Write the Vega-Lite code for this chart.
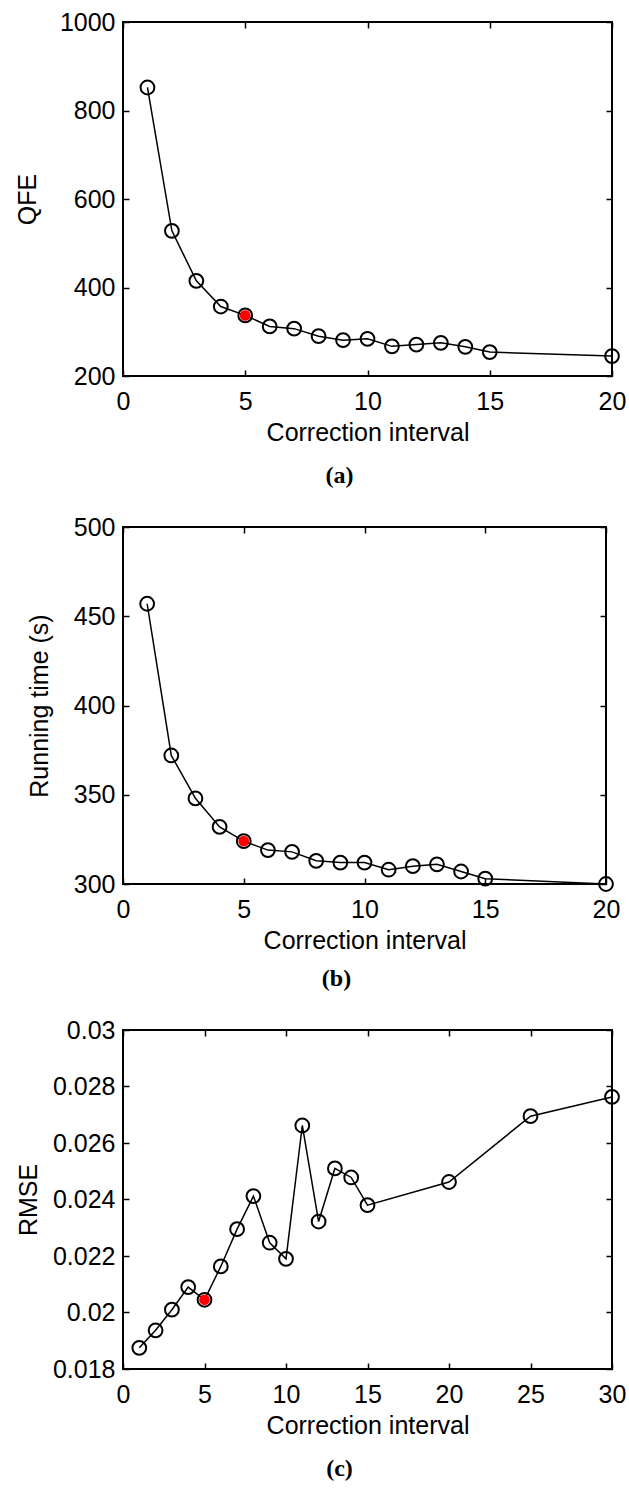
{
  "$schema": "https://vega.github.io/schema/vega-lite/v6.json",
  "background": "white",
  "padding": {"left": 14, "top": 9, "right": 5, "bottom": 5},
  "spacing": 25,
  "config": {
    "view": {"stroke": "black", "strokeWidth": 2},
    "font": "Liberation Sans",
    "axis": {
      "labelFont": "Liberation Sans", "labelFontSize": 25, "labelColor": "black",
      "titleFont": "Liberation Sans", "titleFontSize": 25, "titleFontWeight": "normal", "titleColor": "black",
      "domain": false, "grid": false, "tickColor": "black", "tickWidth": 1.5, "tickSize": -6,
      "labelFlush": false, "labelOverlap": false
    },
    "axisX": {"labelPadding": 19, "titlePadding": 6},
    "axisY": {"labelPadding": 14},
    "title": {"font": "Liberation Serif", "fontSize": 24, "fontWeight": "bold", "color": "black", "orient": "bottom", "offset": 19, "dx": -28}
  },
  "datasets": {
    "ab": [
      {"interval": 1, "qfe": 852, "time": 457},
      {"interval": 2, "qfe": 528, "time": 372},
      {"interval": 3, "qfe": 415, "time": 348},
      {"interval": 4, "qfe": 357, "time": 332},
      {"interval": 5, "qfe": 337, "time": 324},
      {"interval": 6, "qfe": 312, "time": 319},
      {"interval": 7, "qfe": 307, "time": 318},
      {"interval": 8, "qfe": 290, "time": 313},
      {"interval": 9, "qfe": 281, "time": 312},
      {"interval": 10, "qfe": 284, "time": 312},
      {"interval": 11, "qfe": 267, "time": 308},
      {"interval": 12, "qfe": 271, "time": 310},
      {"interval": 13, "qfe": 275, "time": 311},
      {"interval": 14, "qfe": 266, "time": 307},
      {"interval": 15, "qfe": 254, "time": 303},
      {"interval": 20, "qfe": 245, "time": 300}
    ],
    "c": [
      {"interval": 1, "rmse": 0.01875},
      {"interval": 2, "rmse": 0.01937},
      {"interval": 3, "rmse": 0.0201},
      {"interval": 4, "rmse": 0.0209},
      {"interval": 5, "rmse": 0.02045},
      {"interval": 6, "rmse": 0.02163},
      {"interval": 7, "rmse": 0.02295},
      {"interval": 8, "rmse": 0.02412},
      {"interval": 9, "rmse": 0.02247},
      {"interval": 10, "rmse": 0.0219},
      {"interval": 11, "rmse": 0.02662},
      {"interval": 12, "rmse": 0.02322},
      {"interval": 13, "rmse": 0.0251},
      {"interval": 14, "rmse": 0.02478},
      {"interval": 15, "rmse": 0.0238},
      {"interval": 20, "rmse": 0.02462},
      {"interval": 25, "rmse": 0.02695},
      {"interval": 30, "rmse": 0.02763}
    ]
  },
  "vconcat": [
    {
      "width": 489, "height": 354,
      "title": {"text": "(a)"},
      "data": {"name": "ab"},
      "resolve": {"axis": {"x": "independent", "y": "independent"}},
      "layer": [
        {
          "mark": {"type": "line", "color": "black", "strokeWidth": 1.5},
          "encoding": {
            "x": {"field": "interval", "type": "quantitative", "scale": {"domain": [0, 20], "nice": false},
                  "axis": {"title": "Correction interval", "values": [0, 5, 10, 15, 20]}},
            "y": {"field": "qfe", "type": "quantitative", "scale": {"domain": [200, 1000], "nice": false, "zero": false},
                  "axis": {"title": "QFE", "format": "d", "values": [200, 400, 600, 800, 1000], "titlePadding": 19}}
          }
        },
        {
          "mark": {"type": "point", "shape": "circle", "filled": false, "color": "black", "size": 190, "strokeWidth": 2, "opacity": 1},
          "encoding": {
            "x": {"field": "interval", "type": "quantitative", "scale": {"domain": [0, 20], "nice": false},
                  "axis": {"orient": "top", "labels": false, "title": null, "values": [0, 5, 10, 15, 20]}},
            "y": {"field": "qfe", "type": "quantitative", "scale": {"domain": [200, 1000], "nice": false, "zero": false},
                  "axis": {"orient": "right", "labels": false, "title": null, "values": [200, 400, 600, 800, 1000]}}
          }
        },
        {
          "transform": [{"filter": "datum.interval == 5"}],
          "mark": {"type": "point", "shape": "circle", "filled": true, "color": "#ff0000", "size": 115, "opacity": 1},
          "encoding": {
            "x": {"field": "interval", "type": "quantitative", "axis": null},
            "y": {"field": "qfe", "type": "quantitative", "axis": null}
          }
        }
      ]
    },
    {
      "width": 483, "height": 357,
      "title": {"text": "(b)", "offset": 14},
      "data": {"name": "ab"},
      "resolve": {"axis": {"x": "independent", "y": "independent"}},
      "layer": [
        {
          "mark": {"type": "line", "color": "black", "strokeWidth": 1.5},
          "encoding": {
            "x": {"field": "interval", "type": "quantitative", "scale": {"domain": [0, 20], "nice": false},
                  "axis": {"title": "Correction interval", "values": [0, 5, 10, 15, 20]}},
            "y": {"field": "time", "type": "quantitative", "scale": {"domain": [300, 500], "nice": false, "zero": false},
                  "axis": {"title": "Running time (s)", "format": "d", "values": [300, 350, 400, 450, 500], "titlePadding": 21}}
          }
        },
        {
          "mark": {"type": "point", "shape": "circle", "filled": false, "color": "black", "size": 190, "strokeWidth": 2, "opacity": 1},
          "encoding": {
            "x": {"field": "interval", "type": "quantitative", "scale": {"domain": [0, 20], "nice": false},
                  "axis": {"orient": "top", "labels": false, "title": null, "values": [0, 5, 10, 15, 20]}},
            "y": {"field": "time", "type": "quantitative", "scale": {"domain": [300, 500], "nice": false, "zero": false},
                  "axis": {"orient": "right", "labels": false, "title": null, "values": [300, 350, 400, 450, 500]}}
          }
        },
        {
          "transform": [{"filter": "datum.interval == 5"}],
          "mark": {"type": "point", "shape": "circle", "filled": true, "color": "#ff0000", "size": 115, "opacity": 1},
          "encoding": {
            "x": {"field": "interval", "type": "quantitative", "axis": null},
            "y": {"field": "time", "type": "quantitative", "axis": null}
          }
        }
      ]
    },
    {
      "width": 489, "height": 339,
      "title": {"text": "(c)"},
      "data": {"name": "c"},
      "resolve": {"axis": {"x": "independent", "y": "independent"}},
      "layer": [
        {
          "mark": {"type": "line", "color": "black", "strokeWidth": 1.5},
          "encoding": {
            "x": {"field": "interval", "type": "quantitative", "scale": {"domain": [0, 30], "nice": false},
                  "axis": {"title": "Correction interval", "values": [0, 5, 10, 15, 20, 25, 30]}},
            "y": {"field": "rmse", "type": "quantitative", "scale": {"domain": [0.018, 0.03], "nice": false, "zero": false},
                  "axis": {"title": "RMSE", "format": "~g", "values": [0.018, 0.02, 0.022, 0.024, 0.026, 0.028, 0.03], "titlePadding": 11}}
          }
        },
        {
          "mark": {"type": "point", "shape": "circle", "filled": false, "color": "black", "size": 190, "strokeWidth": 2, "opacity": 1},
          "encoding": {
            "x": {"field": "interval", "type": "quantitative", "scale": {"domain": [0, 30], "nice": false},
                  "axis": {"orient": "top", "labels": false, "title": null, "values": [0, 5, 10, 15, 20, 25, 30]}},
            "y": {"field": "rmse", "type": "quantitative", "scale": {"domain": [0.018, 0.03], "nice": false, "zero": false},
                  "axis": {"orient": "right", "labels": false, "title": null, "values": [0.018, 0.02, 0.022, 0.024, 0.026, 0.028, 0.03]}}
          }
        },
        {
          "transform": [{"filter": "datum.interval == 5"}],
          "mark": {"type": "point", "shape": "circle", "filled": true, "color": "#ff0000", "size": 115, "opacity": 1},
          "encoding": {
            "x": {"field": "interval", "type": "quantitative", "axis": null},
            "y": {"field": "rmse", "type": "quantitative", "axis": null}
          }
        }
      ]
    }
  ]
}
